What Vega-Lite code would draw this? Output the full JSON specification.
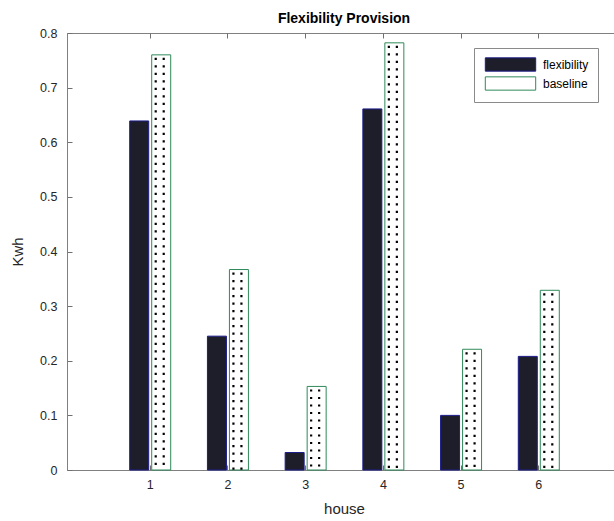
{
  "$schema": "https://vega.github.io/schema/vega-lite/v6.json",
  "autosize": "none",
  "padding": {"left": 67, "top": 33, "right": 10, "bottom": 51},
  "width": 554,
  "height": 437,
  "title": {"text": "Flexibility Provision", "font": "Liberation Sans", "fontSize": 14, "fontWeight": "bold", "color": "#000000", "offset": 1, "anchor": "middle"},
  "data": {"values": [
    {"house": 1, "series": "flexibility", "kwh": 0.639},
    {"house": 1, "series": "baseline", "kwh": 0.760},
    {"house": 2, "series": "flexibility", "kwh": 0.245},
    {"house": 2, "series": "baseline", "kwh": 0.367},
    {"house": 3, "series": "flexibility", "kwh": 0.032},
    {"house": 3, "series": "baseline", "kwh": 0.153},
    {"house": 4, "series": "flexibility", "kwh": 0.661},
    {"house": 4, "series": "baseline", "kwh": 0.782},
    {"house": 5, "series": "flexibility", "kwh": 0.100},
    {"house": 5, "series": "baseline", "kwh": 0.221},
    {"house": 6, "series": "flexibility", "kwh": 0.208},
    {"house": 6, "series": "baseline", "kwh": 0.329}
  ]},
  "resolve": {"axis": {"x": "independent"}},
  "layer": [
    {
      "transform": [{"filter": "datum.series === 'flexibility'"}],
      "mark": {"type": "bar", "width": 19, "xOffset": -10.5, "strokeWidth": 1},
      "encoding": {
        "x": {"field": "house", "type": "quantitative", "scale": {"domain": [0, 7], "nice": false, "zero": false},
          "axis": {"values": [1, 2, 3, 4, 5, 6], "format": "d", "title": "house", "grid": false, "tickSize": -5, "labelPadding": 13, "titlePadding": 11}},
        "y": {"field": "kwh", "type": "quantitative", "scale": {"domain": [0, 0.8], "nice": false},
          "axis": {"values": [0, 0.1, 0.2, 0.3, 0.4, 0.5, 0.6, 0.7, 0.8], "format": ".1~f", "title": "Kwh", "grid": false, "tickSize": -5, "labelPadding": 15, "titlePadding": 14}},
        "fill": {"field": "series", "type": "nominal", "scale": {"domain": ["flexibility", "baseline"], "range": ["#1e1e2a", "#ffffff"]}, "legend": {"title": null}},
        "stroke": {"field": "series", "type": "nominal", "scale": {"domain": ["flexibility", "baseline"], "range": ["#1c1c8c", "#2f8a5a"]}, "legend": {"title": null}}
      }
    },
    {
      "transform": [{"filter": "datum.series === 'baseline'"}],
      "mark": {"type": "bar", "width": 19, "xOffset": 11.5, "strokeWidth": 1},
      "encoding": {
        "x": {"field": "house", "type": "quantitative", "axis": null},
        "y": {"field": "kwh", "type": "quantitative"},
        "fill": {"field": "series", "type": "nominal"},
        "stroke": {"field": "series", "type": "nominal"}
      }
    },
    {
      "transform": [{"filter": "datum.series === 'baseline'"}],
      "mark": {"type": "rule", "xOffset": 6, "color": "#000000", "strokeWidth": 2.2, "strokeDash": [2.2, 5.3], "strokeDashOffset": -3, "strokeCap": "butt"},
      "encoding": {
        "x": {"field": "house", "type": "quantitative",
          "axis": {"orient": "top", "values": [1, 2, 3, 4, 5, 6], "labels": false, "title": null, "domain": false, "grid": false, "tickSize": -5}},
        "y": {"field": "kwh", "type": "quantitative"},
        "y2": {"datum": 0}
      }
    },
    {
      "transform": [{"filter": "datum.series === 'baseline'"}],
      "mark": {"type": "rule", "xOffset": 14, "color": "#000000", "strokeWidth": 2.2, "strokeDash": [2.2, 5.3], "strokeDashOffset": -3, "strokeCap": "butt"},
      "encoding": {
        "x": {"field": "house", "type": "quantitative", "axis": null},
        "y": {"field": "kwh", "type": "quantitative"},
        "y2": {"datum": 0}
      }
    }
  ],
  "config": {
    "background": "#ffffff",
    "view": {"stroke": "#808080", "strokeWidth": 1},
    "font": "Liberation Sans",
    "axis": {
      "labelFont": "Liberation Sans", "labelFontSize": 12.5, "labelColor": "#262626",
      "titleFont": "Liberation Sans", "titleFontSize": 15, "titleFontWeight": "normal", "titleColor": "#262626",
      "domainColor": "#808080", "tickColor": "#707070", "domainWidth": 1, "tickWidth": 1
    },
    "legend": {
      "orient": "none", "legendX": 407, "legendY": 15,
      "strokeColor": "#8a8a8a", "fillColor": "#ffffff", "padding": 9,
      "labelFont": "Liberation Sans", "labelFontSize": 12, "labelColor": "#000000",
      "labelExpr": "datum.label + '\u00a0\u00a0\u00a0\u00a0\u00a0\u00a0'",
      "symbolType": "M-3.6,-0.95H3.6V0.95H-3.6Z", "symbolSize": 196, "symbolStrokeWidth": 1,
      "symbolOffset": 20, "rowPadding": 0, "labelOffset": 25
    }
  }
}
